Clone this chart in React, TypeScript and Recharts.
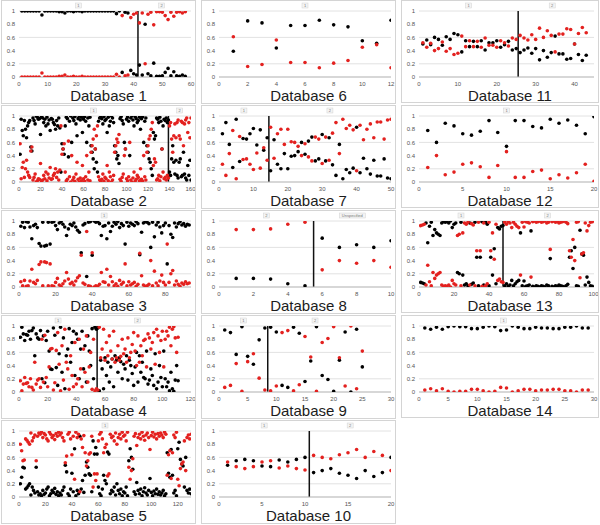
import React from "react";
import { ScatterChart, Scatter, XAxis, YAxis, CartesianGrid, ReferenceLine } from "recharts";

const BLACK = "#000000";
const RED = "#e3211f";
const FONT = '"Liberation Sans", Arial, sans-serif';
const yTicks = [0, 0.2, 0.4, 0.6, 0.8, 1];

// Database 1
const db1Black = [1,1,1,1,1,1,1,.94,1,1, 1,1,1,.99,.99,.97,1,1,.99,1, 1,.99,1,1,1,1,1,1,1,1, 1,1,1,.96,1,.07,.98,.97,.1,.05, .03,.18,.03,.8,.05,.02,.21,.01,.01,.02, .07,.13,.02,.08,.02,.01,.03,.01];
const db1Red = [0,0,0,0,0,0,0,.06,0,0, 0,0,0,.01,.01,.03,0,0,.01,0, 0,.01,0,0,0,0,0,0,0,0, 0,0,0,.04,0,.93,.02,.03,.9,.95, .97,.82,.97,.2,.95,.98,.79,.99,.99,.98, .93,.87,.98,.92,.98,.99,.97,.99];

// Database 2
const db2Black = [
  .42,.95,.78,.7,.93,.8,.67,.85,.9,.93, .53,.47,.97,.93,.88,1,.98,.95,.96,.72,
  .99,.97,.9,.95,.85,.98,.88,.94,.78,.96, .95,.9,.87,.8,.93,.85,.97,.82,.15,.58,
  .5,.42,.85,.98,.96,.38,.92,1,.6,.97, .93,.99,.88,.7,.96,1,.94,.98,.75,.95,
  .99,.92,.6,.97,.85,.98,.55,.45,.35,.2, .5,.3,.15,.92,.97,1,.96,.88,.99,.93,
  .95,.75,.98,.85,.92,1,.97,.9,.55,.45, .35,.4,.28,.96,.99,.93,.88,.6,.5,.95,
  .98,.92,.4,.97,1,.94,.85,.99,.96,.9, .93,.98,.8,.96,.99,.6,.92,.97,.55,.45,
  .35,.3,.2,.1,.75,.65,.7,.97,.95,.9, .98,.92,.5,.85,.95,.93,.97,.9,.94,
  .15,.1,.35,.55,.3,.12,.33,.1,.06,.3,.35, .08,.1,.45,.12,.06,.03,.25,.1,.33,.03,
];
const db2Red = [
  .58,.05,.22,.3,.07,.2,.33,.15,.1,.07, .47,.53,.03,.07,.12,0,.02,.05,.04,.28,
  .01,.03,.1,.05,.15,.02,.12,.06,.22,.04, .05,.1,.13,.2,.07,.15,.03,.18,.85,.42,
  .5,.58,.15,.02,.04,.62,.08,0,.4,.03, .07,.01,.12,.3,.04,0,.06,.02,.25,.05,
  .01,.08,.4,.03,.15,.02,.45,.55,.65,.8, .5,.7,.85,.08,.03,0,.04,.12,.01,.07,
  .05,.25,.02,.15,.08,0,.03,.1,.45,.55, .65,.6,.72,.04,.01,.07,.12,.4,.5,.05,
  .02,.08,.6,.03,0,.06,.15,.01,.04,.1, .07,.02,.2,.04,.01,.4,.08,.03,.45,.55,
  .65,.7,.8,.9,.25,.35,.3,.03,.05,.1, .02,.08,.5,.15,.05,.07,.03,.1,.06,
  .85,.9,.65,.45,.7,.88,.67,.9,.94,.7,.65, .92,.9,.55,.88,.94,.97,.75,.9,.67,.97,
];

// Database 3
const db3Black = [
  .92,.98,.9,.99,.98,.91,.73,.93,.95,.9, .66,.62,.98,.62,.63,.98,.65,.98,.99,.93,
  .87,.97,.99,.95,.91,.78,.88,.95,.93,.97, .91,.86,.83,.52,.94,.96,.16,.98,.99,.48,
  1,.98,.99,.96,.78,.92,.93,.73,.97,.84, .92,.98,.95,.99,.9,.96,.93,.65,.98,.92,
  .97,.95,.93,.99,.96,.49,.83,.97,.99,.98, .96,.6,.98,.76,.94,.98,.91,.82,.93,.97,
  .35,.93,.8,.75,.97,.91,.96,.99,.94,.96, .92,.95,.94,
];
const db3Red = [
  .08,.02,.1,.01,.02,.09,.27,.07,.05,.1, .34,.38,.02,.38,.37,.02,.35,.02,.01,.07,
  .13,.03,.01,.05,.09,.22,.12,.05,.07,.03, .09,.14,.17,.48,.06,.04,.84,.02,.01,.52,
  0,.02,.01,.04,.22,.08,.07,.27,.03,.16, .08,.02,.05,.01,.1,.04,.07,.35,.02,.08,
  .03,.05,.07,.01,.04,.51,.17,.03,.01,.02, .04,.4,.02,.24,.06,.02,.09,.18,.07,.03,
  .65,.07,.2,.25,.03,.09,.04,.01,.06,.04, .08,.05,.06,
];

// Database 4
const db4Black = [
  .83,.98,.88,.78,.87,.86,.92,.8,.93,.97, .55,.88,.82,.8,.93,.2,.85,.14,.78,.92,
  .62,.35,.34,.97,.86,.37,.1,.58,.98,.3, .82,.05,.55,.65,.96,.45,.75,.92,.25,.88,
  .8,.2,.65,.92,.35,.7,.15,.85,.62,.4, .96,.2,.98,.95,
  .97,.02,.48,.35,.05,.52,.25,.45,.15,.38, .5,.08,.55,.48,.3,.52,.46,.2,.42,.35,
  .55,.18,.48,.4,.28,.1,.38,.6,.15,.55, .3,.45,.22,.2,.62,.12,.18,.35,.25,.1,
  .58,.05,.15,.4,.22,.08,.62,.2,.08,.15, .02,.3,.05,.01,.18,.4,.17,
];
const db4Red = [
  .17,.02,.12,.22,.13,.14,.08,.2,.07,.03, .45,.12,.18,.2,.07,.8,.15,.86,.22,.08,
  .38,.65,.66,.03,.14,.63,.9,.42,.02,.7, .18,.95,.45,.35,.04,.55,.25,.08,.75,.12,
  .2,.8,.35,.08,.65,.3,.85,.15,.38,.6, .04,.8,.02,.05,
  .03,.98,.52,.65,.95,.48,.75,.55,.85,.62, .5,.92,.45,.52,.7,.48,.54,.8,.58,.65,
  .45,.82,.52,.6,.72,.9,.62,.4,.85,.45, .7,.55,.78,.8,.38,.88,.82,.65,.75,.9,
  .42,.95,.85,.6,.78,.92,.38,.8,.92,.85, .98,.7,.95,.99,.82,.6,.83,
];

// Database 5
const db5Black = [
  .2,.3,.45,.44,.12,.14,.17,.2,.03,.15, .1,.06,.45,.08,.03,.05,.02,.1,.04,.06,
  .12,.15,.02,.05,.1,.07,.13,.04,.08,.02, .06,.03,.1,.15,.48,.38,.05,.02,.12,.36,
  .08,.73,.02,.1,.05,.92,.12,.25,.07,.33, .53,.45,.35,.33,.08,.85,.65,.75,.65,.15,
  .05,.02,.12,.33,.25,.2,.68,.65,.05,.1, .08,.15,.03,.2,.1,.05,.12,.02,.08,.06,
  .15,.02,.55,.73,.6,.42,.08,.04,.22,.1, .05,.12,.02,.08,.14,.06,.03,.1,.28,.07,
  .02,.09,.05,.12,.04,.08,.03,.06,.1,.02, .05,.67,.36,.3,.72,.33,.06,.1,.02,.73,
  .83,.57,.5,.47,.15,.6,.1,.06,.12,.05,
];
const db5Red = [
  .8,.7,.55,.56,.88,.86,.83,.8,.97,.85, .9,.94,.55,.92,.97,.95,.98,.9,.96,.94,
  .88,.85,.98,.95,.9,.93,.87,.96,.92,.98, .94,.97,.9,.85,.52,.62,.95,.98,.88,.64,
  .92,.27,.98,.9,.95,.08,.88,.75,.93,.67, .47,.55,.65,.67,.92,.15,.35,.25,.35,.85,
  .95,.98,.88,.67,.75,.8,.32,.35,.95,.9, .92,.85,.97,.8,.9,.95,.88,.98,.92,.94,
  .85,.98,.45,.27,.4,.58,.92,.96,.78,.9, .95,.88,.98,.92,.86,.94,.97,.9,.72,.93,
  .98,.91,.95,.88,.96,.92,.97,.94,.9,.98, .95,.33,.64,.7,.28,.67,.94,.9,.98,.27,
  .17,.43,.5,.53,.85,.4,.9,.94,.88,.95,
];

// Database 6
const db6Black = [.39,.85,.82,.44,.78,.78,.86,.79,.76,.55,.51,.86];
const db6Red = [.61,.16,.19,.56,.22,.22,.14,.21,.25,.45,.49,.14];

// Database 7
const db7Black = [
  .73,.9,.57,.22,.95,.31,.66,.65,.73,.81,.56,.79,.48,.67,
  .17,.64,.27,.2,.43,.2,.39,.4,.46,.6,.42,.62,.68,.32,.35,.72,.32,.67,
  .26,.1,.57,.05,.19,.14,.21,.83,.14,.36,.2,.12,.33,.09,.09,.35,.06,.05,
];
const db7Red = [
  .27,.1,.43,.78,.05,.69,.34,.35,.27,.19,.44,.21,.52,.33,
  .83,.36,.73,.8,.57,.8,.61,.6,.54,.4,.58,.38,.32,.68,.65,.28,.68,.33,
  .74,.9,.43,.95,.81,.86,.79,.17,.86,.64,.8,.88,.67,.91,.91,.65,.94,.95,
];

// Database 8
const db8Black = [.13,.13,.12,.05,.02,.74,.6,.64,.6,.7];
const db8Red = [.87,.87,.88,.95,.98,.26,.4,.36,.4,.3];

// Database 9
const db9Black = [.94,.9,.57,.99,.54,.42,.79,.97,.98,.91,.1,.07,.98,.89,.16,.47,.99,.25,.19,.01,.48,.91,0,.95,.38];
const db9Red = [.07,.1,.43,.01,.46,.58,.21,.03,.02,.09,.9,.93,.02,.11,.84,.53,.01,.75,.81,.99,.52,.09,1,.05,.62];

// Database 10
const db10Black = [.48,.55,.57,.55,.47,.46,.56,.53,.57,.6,.37,.4,.43,.36,.33,.28,.4,.31,.37,.6];
const db10Red = [.53,.46,.43,.46,.53,.55,.44,.47,.43,.41,.63,.6,.58,.64,.67,.72,.6,.69,.63,.4];

// Database 11
const db11Black = [
  .5,.56,.49,.6,.57,.48,.61,.57,.66,.64, .38,.55,.46,.54,.46,.55,.41,.52,.52,.55,
  .45,.49,.54,.41,.43, .37,.41,.44,.36,.43, .26,.4,.3,.37,.62, .35,.35,.27,.28,.5, .34,.25,.33,
];
const db11Red = [
  .52,.45,.51,.4,.43,.53,.39,.43,.34,.36, .62,.46,.55,.46,.54,.45,.59,.48,.48,.45,
  .55,.52,.47,.59,.57, .63,.59,.56,.64,.57, .74,.6,.7,.63,.38, .65,.65,.73,.72,.5, .66,.75,.67,
];

// Database 12
const db12Black = [.78,.6,.89,.85,.73,.71,.77,.93,.75,.54,.93,.93,.84,.82,.95,.89,.94,.86,.73,.99];
const db12Red = [.22,.4,.11,.15,.27,.29,.23,.07,.25,.46,.07,.07,.16,.18,.05,.11,.06,.14,.27,.01];

// Database 13
const db13Black = [
  .07,.06,.05,.97,.67,.92,.98,.78,.87,.82, .8,.78,.97,.99,.98,.99,.97,1,.9,.95,
  .97,.22,.2,.98,.18,.03,.05,.02,.97,.04, .06,.98,.45,.02,.45,.99,.03,.98,.95,.02,
  .45,.18,.58,.05,.9,.88,.92,.93,.02,.05, .01,.03,.1,.02,.05,.08,.1,.82,.02,.09,
  .01,.02,.03,.85,.01,0,.02,.01,0,.02, .01,0,.03,.02,.43,.01,0,.02,.01,.03,
  .02,.01,0,.02,.04,.45,.55,.28,.6,.02, .01,.86,.5,.48,.03,.15,.07,.02,.01,
];
const db13Red = [
  .93,.94,.95,.03,.33,.08,.02,.22,.13,.18, .2,.22,.03,.01,.02,.01,.03,0,.1,.05,
  .03,.78,.8,.02,.82,.97,.95,.98,.03,.96, .94,.02,.55,.98,.55,.01,.97,.02,.05,.98,
  .55,.82,.42,.95,.1,.12,.08,.07,.98,.95, .99,.97,.9,.98,.95,.92,.9,.18,.98,.91,
  .99,.98,.97,.15,.99,1,.98,.99,1,.98, .99,1,.97,.98,.57,.99,1,.98,.99,.97,
  .98,.99,1,.98,.96,.55,.45,.72,.4,.98, .99,.14,.5,.52,.97,.85,.93,.98,.99,
];

// Database 14
const db14Black = [.97,.95,.98,.95,.99,1,.99,.99,.96,.96,.98,1,.99,.93,.94,1,.98,.96,.96,.98,.97,.97,.96,.96,.98,.98,1,.97,.97];
const db14Red = [.03,.05,.02,.05,.01,0,.01,.01,.04,.04,.02,0,.01,.07,.06,0,.02,.04,.04,.02,.03,.03,.04,.04,.02,.02,0,.03,.03];

type PanelDef = {
  title: string;
  black: number[];
  red: number[];
  xMax: number;
  xTicks: number[];
  split?: number;
  segs: string[];
  col: number;
  row: number;
};

const panels: PanelDef[] = [
  { title: "Database 1", black: db1Black, red: db1Red, xMax: 60, xTicks: [0, 10, 20, 30, 40, 50, 60], split: 41.5, segs: ["1", "2"], col: 0, row: 0 },
  { title: "Database 2", black: db2Black, red: db2Red, xMax: 160, xTicks: [0, 20, 40, 60, 80, 100, 120, 140, 160], split: 139, segs: ["1", "2"], col: 0, row: 1 },
  { title: "Database 3", black: db3Black, red: db3Red, xMax: 94, xTicks: [0, 20, 40, 60, 80], segs: ["1"], col: 0, row: 2 },
  { title: "Database 4", black: db4Black, red: db4Red, xMax: 120, xTicks: [0, 20, 40, 60, 80, 100, 120], split: 54.5, segs: ["1", "2"], col: 0, row: 3 },
  { title: "Database 5", black: db5Black, red: db5Red, xMax: 130, xTicks: [0, 20, 40, 60, 80, 100, 120], segs: ["1"], col: 0, row: 4 },
  { title: "Database 6", black: db6Black, red: db6Red, xMax: 12, xTicks: [0, 2, 4, 6, 8, 10, 12], segs: ["1"], col: 1, row: 0 },
  { title: "Database 7", black: db7Black, red: db7Red, xMax: 50, xTicks: [0, 10, 20, 30, 40, 50], split: 14.5, segs: ["1", "2"], col: 1, row: 1 },
  { title: "Database 8", black: db8Black, red: db8Red, xMax: 10, xTicks: [0, 2, 4, 6, 8, 10], split: 5.5, segs: ["2", "Unspecified"], col: 1, row: 2 },
  { title: "Database 9", black: db9Black, red: db9Red, xMax: 30, xTicks: [0, 5, 10, 15, 20, 25, 30], split: 8.5, segs: ["1", "2"], col: 1, row: 3 },
  { title: "Database 10", black: db10Black, red: db10Red, xMax: 20, xTicks: [0, 5, 10, 15, 20], split: 10.5, segs: ["1", "2"], col: 1, row: 4 },
  { title: "Database 11", black: db11Black, red: db11Red, xMax: 45, xTicks: [0, 10, 20, 30, 40], split: 25.5, segs: ["1", "2"], col: 2, row: 0 },
  { title: "Database 12", black: db12Black, red: db12Red, xMax: 20, xTicks: [0, 5, 10, 15, 20], segs: ["1"], col: 2, row: 1 },
  { title: "Database 13", black: db13Black, red: db13Red, xMax: 100, xTicks: [0, 20, 40, 60, 80, 100], split: 48, segs: ["1", "2"], col: 2, row: 2 },
  { title: "Database 14", black: db14Black, red: db14Red, xMax: 30, xTicks: [0, 5, 10, 15, 20, 25, 30], segs: ["1"], col: 2, row: 3 },
];

// grid layout of the boxes
const colLeft = [1, 201, 401];
const colWidth = [195, 195, 198];
const rowTops = [
  [0, 105, 210, 315, 420],
  [0, 105, 210, 315, 420],
  [0, 105, 210, 315],
];
const panelHeight = [104, 104, 103];

const toPoints = (vals: number[]) => vals.map((y, i) => ({ x: i + 1, y }));

const dot = (color: string) => (props: any) =>
  props.cx == null ? <g /> : <circle cx={props.cx} cy={props.cy} r={1.8} fill={color} />;

const SegLabel = ({ viewBox, text }: any) => {
  if (!viewBox) return null;
  const w = 4 + text.length * 2;
  const x = viewBox.x;
  const y = viewBox.y;
  return (
    <g>
      <rect x={x - w / 2} y={y - 8} width={w} height={5} fill="#f4f4f4" stroke="#d2d2d2" strokeWidth={0.5} />
      <text x={x} y={y - 4.3} fontSize={4} textAnchor="middle" fill="#777" fontFamily={FONT}>
        {text}
      </text>
    </g>
  );
};

const ChartPanel = ({ p }: { p: PanelDef }) => {
  const width = colWidth[p.col];
  const height = panelHeight[p.col];
  const n = p.black.length;
  const labelXs = p.split != null ? [p.split / 2, (p.split + n) / 2] : [n / 2];
  const tickStyle = { fontSize: 6, fill: "#555", fontFamily: FONT };

  return (
    <div
      style={{
        position: "absolute",
        left: colLeft[p.col],
        top: rowTops[p.col][p.row],
        width,
        height,
        border: "1px solid #d4d4d4",
        boxSizing: "border-box",
        background: "#fff",
        overflow: "hidden",
      }}
    >
      <ScatterChart width={width - 2} height={88} margin={{ top: 10, right: 4, bottom: 0, left: 1 }}>
        <CartesianGrid vertical={false} stroke="#e2e2e2" />
        <XAxis
          type="number"
          dataKey="x"
          domain={[0, p.xMax]}
          ticks={p.xTicks}
          height={12}
          tick={tickStyle}
          tickLine={false}
          tickSize={3}
          tickMargin={2}
          axisLine={{ stroke: "#bdbdbd" }}
          allowDataOverflow
        />
        <YAxis
          type="number"
          dataKey="y"
          domain={[0, 1]}
          ticks={yTicks}
          width={16}
          tick={tickStyle}
          tickLine={false}
          axisLine={false}
          tickSize={2}
          tickMargin={2}
          allowDataOverflow
        />
        {p.split != null && <ReferenceLine x={p.split} stroke="#111" strokeWidth={1.5} />}
        {labelXs.map((lx, i) => (
          <ReferenceLine
            key={i}
            x={lx}
            stroke="none"
            label={(lp: any) => <SegLabel viewBox={lp.viewBox} text={p.segs[i]} />}
          />
        ))}
        <Scatter data={toPoints(p.black)} fill={BLACK} shape={dot(BLACK)} isAnimationActive={false} />
        <Scatter data={toPoints(p.red)} fill={RED} shape={dot(RED)} isAnimationActive={false} />
      </ScatterChart>
      <div
        style={{
          position: "absolute",
          left: 20,
          right: 0,
          top: 89,
          textAlign: "center",
          fontFamily: FONT,
          fontSize: 15,
          lineHeight: "12px",
          color: "#1c1c1c",
          whiteSpace: "nowrap",
        }}
      >
        {p.title}
      </div>
    </div>
  );
};

export default function App() {
  return (
    <div style={{ position: "absolute", left: 0, top: 0, width: 600, height: 525, background: "#fff", overflow: "hidden" }}>
      {panels.map((p) => (
        <ChartPanel key={p.title} p={p} />
      ))}
    </div>
  );
}
